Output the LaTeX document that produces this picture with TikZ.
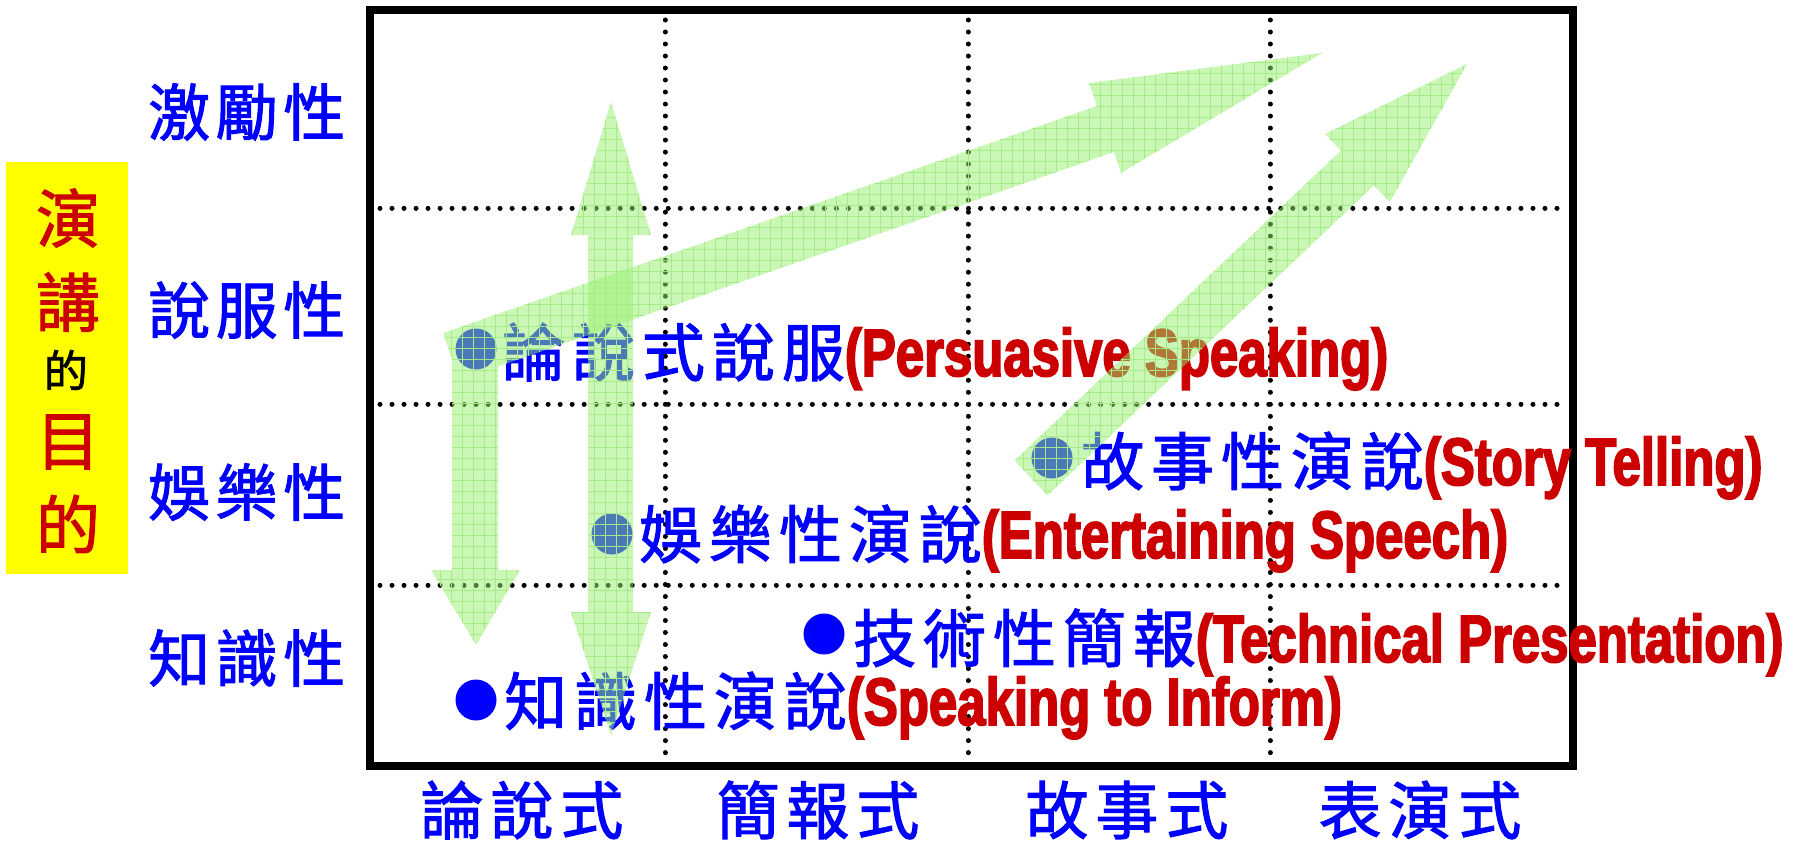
\documentclass[tikz,border=0pt]{standalone}
\usepackage{fontspec}
\usetikzlibrary{patterns.meta}
\newfontfamily\cjkI[LetterSpace=11, FakeBold=1.6]{Noto Sans CJK TC}
\newfontfamily\cjkX[LetterSpace=11, FakeBold=1.6]{Noto Sans CJK TC}
\newfontfamily\cjkY[LetterSpace=9, FakeBold=1.6]{Noto Sans CJK TC}
\newfontfamily\cjkP[FakeBold=1.6]{Noto Sans CJK TC}
\newfontfamily\enR[FakeStretch=0.76, FakeBold=2.5]{Liberation Sans Bold}
\definecolor{tblue}{RGB}{0,0,255}
\definecolor{tred}{RGB}{204,0,0}
\definecolor{agreen}{RGB}{150,240,110}
\definecolor{ggreen}{RGB}{165,235,135}
\definecolor{ybox}{RGB}{255,255,0}
\tikzset{
  gridline/.style={line width=5pt, line cap=round, dash pattern=on 0.01pt off 12pt},
  frameline/.style={line width=8pt},
  bdot/.style={circle, fill=tblue, inner sep=0pt, minimum size=41pt},
  ylab/.style={font=\cjkY\fontsize{62}{70}\selectfont, text=tblue, anchor=west, inner sep=0pt},
  xlab/.style={font=\cjkX\fontsize{63}{70}\selectfont, text=tblue, anchor=center, inner sep=0pt},
  item/.style={anchor=base west, inner sep=0pt, text=tblue, font=\cjkI\fontsize{63}{70}\selectfont},
  boxch/.style={font=\cjkP\fontsize{64}{70}\selectfont, text=tred, inner sep=0pt},
  garrow/.style={fill=agreen, fill opacity=0.5,
    postaction={pattern={Hatch[distance=11pt, angle=0, line width=0.7pt]}, pattern color=ggreen, fill opacity=0.3}}
}
\newcommand{\en}[1]{{\enR\fontsize{67}{70}\selectfont\color{tred}#1}}
\begin{document}
\begin{tikzpicture}[x=1pt, y=-1pt]
\useasboundingbox (0,0) rectangle (1813,843);
% left yellow title box
\fill[ybox] (6,162) rectangle (128,574);
\node[boxch] (t1) at (68,218) {演};
\node[boxch] (t2) at (68,302) {講};
\node[boxch, text=black, font=\cjkP\fontsize{44}{50}\selectfont] (t3) at (66,370) {的};
\node[boxch] (t4) at (68,442) {目};
\node[boxch] (t5) at (68,524) {的};
% row labels
\node[ylab] (r1) at (148,112) {激勵性};
\node[ylab] (r2) at (148,310) {說服性};
\node[ylab] (r3) at (148,492) {娛樂性};
\node[ylab] (r4) at (148,658) {知識性};
% column labels
\node[xlab] (c1) at (522,810) {論說式};
\node[xlab] (c2) at (818,810) {簡報式};
\node[xlab] (c3) at (1127,810) {故事式};
\node[xlab] (c4) at (1420,810) {表演式};
% dotted grid
\draw[gridline] (665,20) -- (665,758);
\draw[gridline] (968,20) -- (968,758);
\draw[gridline] (1270,20) -- (1270,758);
\draw[gridline] (380,208) -- (1562,208);
\draw[gridline] (380,404) -- (1562,404);
\draw[gridline] (380,585) -- (1562,585);
% frame
\draw[frameline] (370,10) rectangle (1572.5,766);
% items
\node[bdot] (d1) at (476,349) {};
\node[item] (i1) at (502,376) {論說式說服\en{(Persuasive Speaking)}};
\node[bdot] (d2) at (1052,458) {};
\node[item] (i2) at (1081,485) {故事性演說\en{(Story Telling)}};
\node[bdot] (d3) at (612,534) {};
\node[item] (i3) at (639,558) {娛樂性演說\en{(Entertaining Speech)}};
\node[bdot] (d4) at (824,634) {};
\node[item] (i4) at (853,662) {技術性簡報\en{(Technical Presentation)}};
\node[bdot] (d5) at (476,700) {};
\node[item] (i5) at (504,725) {知識性演說\en{(Speaking to Inform)}};
% green block arrows
\path[garrow] (443,333) -- (1097,106) -- (1089,83) -- (1322,53) -- (1121,173) -- (1114,152)
  -- (498,366.5) -- (498,570) -- (520,570) -- (476,645) -- (431,570) -- (452,570) -- (452,359) -- cycle;
\path[garrow] (1014.5,460.6) -- (1340.9,150.6) -- (1325,133.9) -- (1467,64) -- (1389.8,202.1)
  -- (1373.9,185.4) -- (1047.5,495.4) -- cycle;
\path[garrow] (611,102) -- (651,235) -- (633,235) -- (633,612) -- (651,612) -- (611,735)
  -- (571,612) -- (588,612) -- (588,235) -- (571,235) -- cycle;
\end{tikzpicture}
\end{document}
